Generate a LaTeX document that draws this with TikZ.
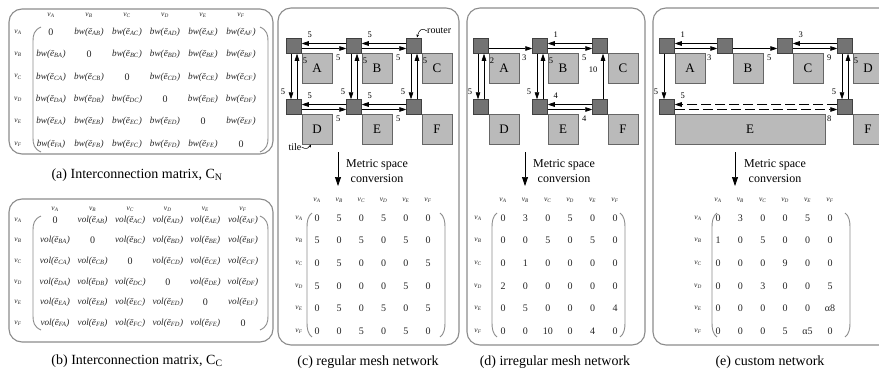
\documentclass[tikz,border=0pt]{standalone}
\usepackage{fontspec}
\setmainfont{Liberation Serif}
\usetikzlibrary{arrows.meta}
\newcommand\bwe[1]{\textit{bw(ē\textsubscript{#1})}}
\newcommand\vole[1]{\textit{vol(ē\textsubscript{#1})}}
\newcommand\vlab[1]{\textit{v}\textsubscript{\textit{#1}}}
\newcommand\harrL[4][]{%
  \draw[arr,#1] ([yshift=2.5pt]#3.west) -- ([yshift=2.5pt]#2.east);
  \node[lbl] (#2#3u) at ([xshift=8pt,yshift=11pt]#2.east) {#4};}
\newcommand\harrR[4][]{%
  \draw[arr,#1] ([yshift=-2.5pt]#2.east) -- ([yshift=-2.5pt]#3.west);
  \node[lbl] (#2#3l) at ([xshift=-8pt,yshift=-11.5pt]#3.west) {#4};}
\newcommand\varrD[3]{%
  \draw[arr] ([xshift=-3pt]#1.south) -- ([xshift=-3pt]#2.north);
  \node[lbl] (#1#2d) at ([xshift=-11pt,yshift=7pt]#2.north) {#3};}
\newcommand\varrU[3]{%
  \draw[arr] ([xshift=3pt]#2.north) -- ([xshift=3pt]#1.south);
  \node[lbl] (#1#2u) at ([xshift=11pt,yshift=-7pt]#1.south) {#3};}
% #1 x, #2 top, #3 bottom, #4 curl width
\newcommand\lpar[4]{\draw[paren] (#1+#4,#2) .. controls (#1+1,#2+3) and (#1,#2+8) .. (#1,#2+14) -- (#1,#3-14) .. controls (#1,#3-8) and (#1+1,#3-3) .. (#1+#4,#3);}
\newcommand\rpar[4]{\draw[paren] (#1-#4,#2) .. controls (#1-1,#2+3) and (#1,#2+8) .. (#1,#2+14) -- (#1,#3-14) .. controls (#1,#3-8) and (#1-1,#3-3) .. (#1-#4,#3);}
\begin{document}
\begin{tikzpicture}[x=1pt,y=-1pt,
  panel/.style={draw=black!45, line width=1.1pt, rounded corners=13pt},
  router/.style={draw=black!75, fill=black!55, minimum size=15pt, inner sep=0pt, line width=0.5pt},
  tile/.style={draw=black!60, fill=black!27, minimum size=30pt, inner sep=0pt, line width=0.6pt, font=\fontsize{13}{13}\selectfont},
  arr/.style={-{Triangle[length=7pt,width=4.6pt]}, line width=0.6pt},
  lbl/.style={font=\fontsize{8.5}{9}\selectfont, inner sep=0pt},
  captxt/.style={font=\fontsize{14}{16}\selectfont, inner sep=0pt},
  ent/.style={font=\fontsize{9.2}{10}\selectfont, inner sep=0pt, text=black!85},
  num/.style={font=\fontsize{10}{10}\selectfont, inner sep=0pt, text=black!85},
  hdr/.style={font=\fontsize{7.5}{7.5}\selectfont, inner sep=0pt, text=black!85},
  paren/.style={draw=black!45, line width=0.9pt},
  metric/.style={font=\fontsize{12}{15}\selectfont, align=center, inner sep=0pt},
  bigarr/.style={-{Triangle[length=9pt,width=6pt]}, line width=0.7pt},
  small/.style={font=\fontsize{10}{10}\selectfont, inner sep=0pt}
]
\useasboundingbox (0,0) rectangle (879,372);
\clip (0,0) rectangle (879,372);
\fill[white] (0,0) rectangle (879,372);

% ---------- panel boxes ----------
\draw[panel] (9,9) rectangle (273,154);
\draw[panel] (9,199) rectangle (273,342);
\draw[panel] (278,8) rectangle (459,345);
\draw[panel] (467,8) rectangle (645,345);
\draw[panel] (653,8) rectangle (905,345);

% ---------- (a) matrix ----------
\foreach \R [count=\i from 0] in {A,B,C,D,E,F}{
  \node[hdr] (ah\R) at (51+38*\i,15) {\vlab{\R}};
  \node[hdr] (ar\R) at (18,32+22.4*\i) {\vlab{\R}};
  \foreach \C [count=\j from 0] in {A,B,C,D,E,F}{
    \ifnum\i=\j
      \node[num] (a\R\C) at (51+38*\j,32+22.4*\i) {0};
    \else
      \node[ent] (a\R\C) at (51+38*\j,32+22.4*\i) {\bwe{\R\C}};
    \fi
  }
}
\lpar{33}{27}{152}{8}
\rpar{268}{27}{152}{8}
\node[captxt] (capa) at (137,175) {(a) Interconnection matrix, C\textsubscript{N}};

% ---------- (b) matrix ----------
\foreach \R [count=\i from 0] in {A,B,C,D,E,F}{
  \node[hdr] (bh\R) at (55+37.6*\i,209) {\vlab{\R}};
  \node[hdr] (br\R) at (18,220+20.6*\i) {\vlab{\R}};
  \foreach \C [count=\j from 0] in {A,B,C,D,E,F}{
    \ifnum\i=\j
      \node[num] (b\R\C) at (55+37.6*\j,220+20.6*\i) {0};
    \else
      \node[ent] (b\R\C) at (55+37.6*\j,220+20.6*\i) {\vole{\R\C}};
    \fi
  }
}
\lpar{33}{216}{330}{8}
\rpar{268}{216}{330}{8}
\node[captxt] (capb) at (137,361) {(b) Interconnection matrix, C\textsubscript{C}};

% ---------- (c) regular mesh ----------
\foreach \L/\x/\y in {A/294/46,B/354/46,C/414/46,D/294/107,E/354/107,F/414/107}{
  \node[tile] (ct\L) at (\x+23,\y+22.5) {\L};
}
\foreach \L/\x/\y in {A/294/46,B/354/46,C/414/46,D/294/107,E/354/107,F/414/107}{
  \node[router] (c\L) at (\x,\y) {};
}
\harrL{cA}{cB}{5} \harrR{cA}{cB}{5}
\harrL{cB}{cC}{5} \harrR{cB}{cC}{5}
\harrL{cD}{cE}{5} \harrR{cD}{cE}{5}
\harrL{cE}{cF}{5} \harrR{cE}{cF}{5}
\varrD{cA}{cD}{5} \varrU{cA}{cD}{5}
\varrD{cB}{cE}{5} \varrU{cB}{cE}{5}
\varrD{cC}{cF}{5} \varrU{cC}{cF}{5}
\node[small, anchor=west] (rlab) at (427,31) {router};
\draw[line width=0.5pt, -{Stealth[length=3pt,width=2.5pt]}] (rlab.west) .. controls (422,27) and (419,30) .. (417,37.5);
\node[small] (tlab) at (295,147) {tile};
\draw[line width=0.5pt, -{Stealth[length=3pt,width=2.5pt]}] (tlab.east) .. controls (306,150) and (309,148) .. (311,144.5);
\coordinate (cm0) at (338,152);
\coordinate (cm1) at (338,186);
\draw[bigarr] (cm0) -- (cm1);
\node[metric] (cmt) at (377,171) {Metric space\\conversion};
\foreach \R [count=\i from 0] in {A,B,C,D,E,F}{
  \node[hdr] (ch\R) at (317+22.2*\i,200) {\vlab{\R}};
  \node[hdr] (cr\R) at (299,218+22.6*\i) {\vlab{\R}};
}
\foreach \row [count=\i from 0] in {{0,5,0,5,0,0},{5,0,5,0,5,0},{0,5,0,0,0,5},{5,0,0,0,5,0},{0,5,0,5,0,5},{0,0,5,0,5,0}}{
  \foreach \v [count=\j from 0] in \row {\node[num] (cm\i\j) at (317+22.2*\j,218+22.6*\i) {\v};}
}
\lpar{307}{213}{337}{5}
\rpar{445}{213}{337}{5}
\node[captxt] (capc) at (368,362) {(c) regular mesh network};

% ---------- (d) irregular mesh ----------
\foreach \L/\x/\y in {A/481/46,B/540/46,C/600/46,D/481/107,E/540/107,F/600/107}{
  \node[tile] (dt\L) at (\x+23,\y+22.5) {\L};
}
\foreach \L/\x/\y in {A/481/46,B/540/46,C/600/46,D/481/107,E/540/107,F/600/107}{
  \node[router] (d\L) at (\x,\y) {};
}
\harrR{dA}{dB}{3}
\harrL{dB}{dC}{1} \harrR{dB}{dC}{5}
\harrL{dE}{dF}{4} \harrR{dE}{dF}{4}
\varrD{dA}{dD}{5} \varrU{dA}{dD}{2}
\varrD{dB}{dE}{5} \varrU{dB}{dE}{5}
\draw[arr] ([xshift=3pt]dF.north) -- ([xshift=3pt]dC.south);
\node[lbl] (dCdFu) at ([xshift=-7pt,yshift=-16pt]dC.south) {10};
\coordinate (dm0) at (525,152);
\coordinate (dm1) at (525,186);
\draw[bigarr] (dm0) -- (dm1);
\node[metric] (dmt) at (564,171) {Metric space\\conversion};
\foreach \R [count=\i from 0] in {A,B,C,D,E,F}{
  \node[hdr] (dh\R) at (503+22.4*\i,200) {\vlab{\R}};
  \node[hdr] (dr\R) at (478,218+22.6*\i) {\vlab{\R}};
}
\foreach \row [count=\i from 0] in {{0,3,0,5,0,0},{0,0,5,0,5,0},{0,1,0,0,0,0},{2,0,0,0,0,0},{0,5,0,0,0,4},{0,0,10,0,4,0}}{
  \foreach \v [count=\j from 0] in \row {\node[num] (dm\i\j) at (503+22.4*\j,218+22.6*\i) {\v};}
}
\lpar{492}{213}{337}{5}
\rpar{625}{213}{337}{5}
\node[captxt] (capd) at (555,362) {(d) irregular mesh network};

% ---------- (e) custom ----------
\foreach \L/\x/\y in {A/667/46,B/725/46,C/785/46,D/845/46,F/845/107}{
  \node[tile] (et\L) at (\x+23,\y+22.5) {\L};
}
\node[tile, minimum width=150pt] (etE) at (750,129.5) {E};
\foreach \L/\x/\y in {A/667/46,B/725/46,C/785/46,D/845/46,E/667/107,F/845/107}{
  \node[router] (e\L) at (\x,\y) {};
}
\harrL{eA}{eB}{1} \harrR{eA}{eB}{3}
\harrR{eB}{eC}{5}
\harrL{eC}{eD}{3} \harrR{eC}{eD}{9}
\harrL[dash pattern=on 10pt off 4pt]{eE}{eF}{5}
\harrR[dash pattern=on 10pt off 4pt]{eE}{eF}{8}
\varrD{eA}{eE}{5}
\varrD{eD}{eF}{5} \varrU{eD}{eF}{5}
\coordinate (em0) at (735,152);
\coordinate (em1) at (735,186);
\draw[bigarr] (em0) -- (em1);
\node[metric] (emt) at (775,171) {Metric space\\conversion};
\foreach \R [count=\i from 0] in {A,B,C,D,E,F}{
  \node[hdr] (eh\R) at (718+22.4*\i,200) {\vlab{\R}};
  \node[hdr] (er\R) at (698,218+22.6*\i) {\vlab{\R}};
}
\foreach \row [count=\i from 0] in {{0,3,0,0,5,0},{1,0,5,0,0,0},{0,0,0,9,0,0},{0,0,3,0,0,5},{0,0,0,0,0,α8},{0,0,0,5,α5,0}}{
  \foreach \v [count=\j from 0] in \row {\node[num] (em\i\j) at (718+22.4*\j,218+22.6*\i) {\v};}
}
\lpar{712}{213}{337}{5}
\rpar{850}{213}{337}{5}
\node[captxt] (cape) at (770,362) {(e) custom network};
\end{tikzpicture}
\end{document}
